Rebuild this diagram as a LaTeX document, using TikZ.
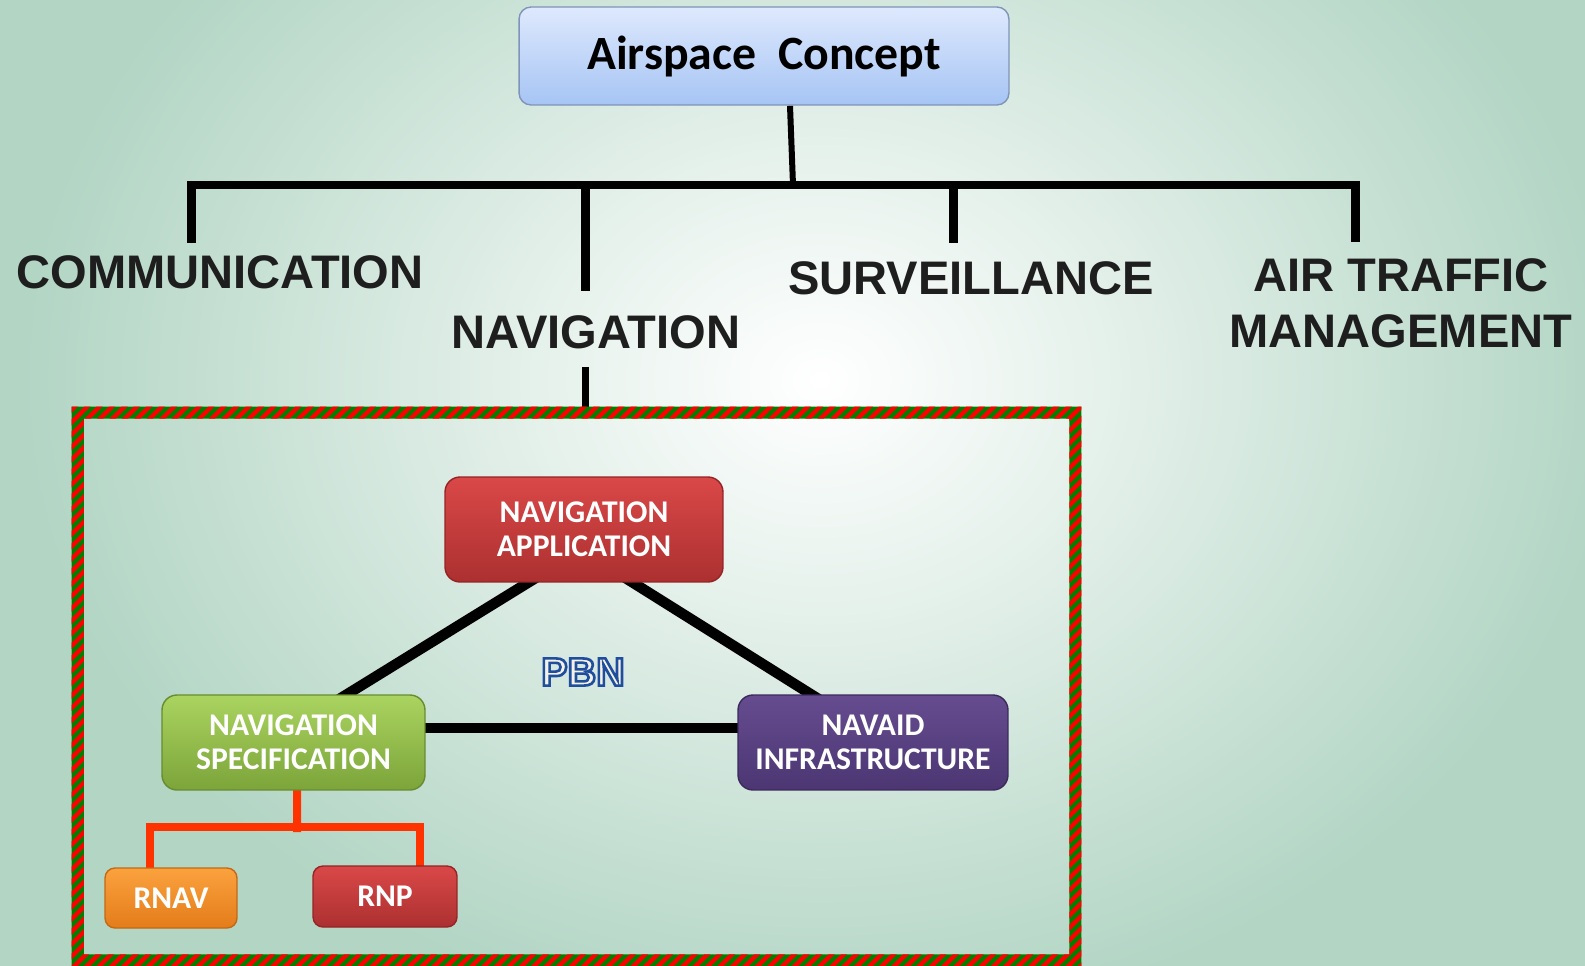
\documentclass[tikz,border=0pt]{standalone}
\usepackage{fontspec}
\setmainfont{Carlito}
\newfontfamily\lsans{Liberation Sans}
\usetikzlibrary{patterns.meta,calc}
\definecolor{bgc}{RGB}{178,213,196}
\colorlet{glowmid}{bgc!30!white}
\definecolor{labc}{RGB}{30,30,30}
\definecolor{topT}{RGB}{222,233,253}
\definecolor{topB}{RGB}{166,196,244}
\definecolor{topD}{RGB}{126,148,184}
\definecolor{redT}{RGB}{218,72,72}
\definecolor{redB}{RGB}{172,48,48}
\definecolor{redD}{RGB}{150,36,36}
\definecolor{grnT}{RGB}{170,212,96}
\definecolor{grnB}{RGB}{124,164,58}
\definecolor{grnD}{RGB}{104,140,48}
\definecolor{purT}{RGB}{101,76,144}
\definecolor{purB}{RGB}{76,54,114}
\definecolor{purD}{RGB}{60,42,92}
\definecolor{orgT}{RGB}{250,162,62}
\definecolor{orgB}{RGB}{228,124,26}
\definecolor{orgD}{RGB}{196,104,20}
\definecolor{oline}{RGB}{255,51,0}
\definecolor{frgreen}{RGB}{0,128,0}
\definecolor{frred}{RGB}{255,0,0}
\definecolor{pbncream}{RGB}{245,242,230}
\pgfdeclareradialshading{glow}{\pgfpoint{0bp}{0bp}}{color(0bp)=(white); color(8bp)=(glowmid); color(25bp)=(bgc); color(50bp)=(bgc)}
\pgfdeclarelayer{back}
\pgfdeclarelayer{wires}
\pgfsetlayers{back,wires,main}
\newcommand\bxfont{\bfseries\fontsize{18pt}{19.5pt}\selectfont}
\newcommand\labfont{\lsans\bfseries\fontsize{26.8pt}{31.7pt}\selectfont}
\newcommand\tpfont{\bfseries\fontsize{27.2pt}{30pt}\selectfont}
\newcommand\pbfont{\lsans\bfseries\fontsize{22.5pt}{26pt}\selectfont}
\newcommand\outlinetext[1]{\special{pdf:literal direct q 2 Tr 1.5 w 0.122 0.306 0.62 RG 0.96 0.95 0.9 rg}#1\special{pdf:literal direct Q}}
\begin{document}
\begin{tikzpicture}[x=0.02cm,y=-0.02cm,
  box/.style={rounded corners=0.3cm, draw, line width=0.8pt, text=white, font=\bxfont, align=center, inner sep=0pt},
  lab/.style={font=\labfont, text=labc, inner sep=0pt, align=center},
  bus/.style={draw=black, line width=0.18cm},
  tri/.style={draw=black, line width=0.21cm, shorten <=-0.2cm, shorten >=-0.2cm},
  oln/.style={draw=oline, line width=0.16cm, shorten <=-0.1cm, shorten >=-0.1cm},
  pbnsty/.style={font=\pbfont, inner sep=0pt}]
\useasboundingbox (0,0) rectangle (1585,966);
\begin{pgfonlayer}{back}
\fill[bgc] (0,0) rectangle (1585,966);
\shade[shading=glow] (820,380) ellipse (16cm and 13cm);
\end{pgfonlayer}

% top box and labels
\node[box, rounded corners=0.24cm, minimum width=9.8cm, minimum height=1.96cm,
      top color=topT, bottom color=topB, draw=topD, text=black, font=\tpfont] (top) at (764,56) {Airspace\ \ Concept};
\node[lab] (comm) at (220,272.5) {COMMUNICATION};
\node[lab] (nav) at (596,332.5) {NAVIGATION};
\node[lab] (surv) at (971,278.5) {SURVEILLANCE};
\node[lab] (atm) at (1401,303) {AIR TRAFFIC\\MANAGEMENT};

\coordinate (busC) at (793,185);
\coordinate (cd) at (191,185);
\coordinate (nd) at (585,185);
\coordinate (sd) at (953,185);
\coordinate (ad) at (1355,185);

% frame
\node[minimum width=20.18cm, minimum height=11.18cm, inner sep=0pt] (frame) at (576.5,686.5) {};
\fill[frgreen, even odd rule] (frame.north west) rectangle (frame.south east)
  ([shift={(12,12)}]frame.north west) rectangle ([shift={(-12,-12)}]frame.south east);
\fill[pattern={Lines[angle=45,distance=5pt,line width=2.5pt]}, pattern color=frred, even odd rule]
  (frame.north west) rectangle (frame.south east)
  ([shift={(12,12)}]frame.north west) rectangle ([shift={(-12,-12)}]frame.south east);

% PBN boxes
\node[box, minimum width=5.56cm, minimum height=2.1cm, top color=redT, bottom color=redB, draw=redD] (app) at (584,529.5) {NAVIGATION\\APPLICATION};
\node[box, minimum width=5.26cm, minimum height=1.9cm, top color=grnT, bottom color=grnB, draw=grnD] (spec) at (293.5,742.5) {NAVIGATION\\SPECIFICATION};
\node[box, minimum width=5.4cm, minimum height=1.9cm, top color=purT, bottom color=purB, draw=purD] (navaid) at (873,742.5) {NAVAID\\INFRASTRUCTURE};
\node[box, rounded corners=0.2cm, minimum width=2.64cm, minimum height=1.2cm, top color=orgT, bottom color=orgB, draw=orgD] (rnav) at (171,898) {RNAV};
\node[box, rounded corners=0.2cm, minimum width=2.88cm, minimum height=1.22cm, top color=redT, bottom color=redB, draw=redD] (rnp) at (385,896.5) {RNP};
\coordinate (obar) at (297,827);

% PBN outlined text
\node[pbnsty, text=pbncream] (pbn) at (583,672) {\outlinetext{PBN}};

\begin{pgfonlayer}{wires}
\draw[draw=black, line width=0.12cm] ([xshift=0.52cm]top.south) -- (busC);
\draw[bus, shorten <=0.254cm, shorten >=0.32cm] (cd |- comm.north) -- (cd) -- (ad) -- (ad |- atm.north);
\draw[bus, shorten >=0.49cm] (nd) -- (nd |- nav.north);
\draw[bus, shorten >=0.37cm] (sd) -- (sd |- surv.north);
\draw[draw=black, line width=0.14cm, shorten <=0.35cm] (nd |- nav.south) -- (nd |- frame.north);
\draw[tri] ([xshift=-1.12cm]app.south) -- ([xshift=1.07cm]spec.north);
\draw[tri] ([xshift=0.98cm]app.south) -- ([xshift=-1.24cm]navaid.north);
\draw[tri] ([yshift=0.29cm]spec.east) -- ([yshift=0.29cm]navaid.west);
\draw[oln] ([xshift=-0.42cm]rnav.north) |- (obar) -| ([xshift=0.7cm]rnp.north);
\draw[oln] ([xshift=0.07cm]spec.south) -- (obar);
\end{pgfonlayer}
\end{tikzpicture}
\end{document}
